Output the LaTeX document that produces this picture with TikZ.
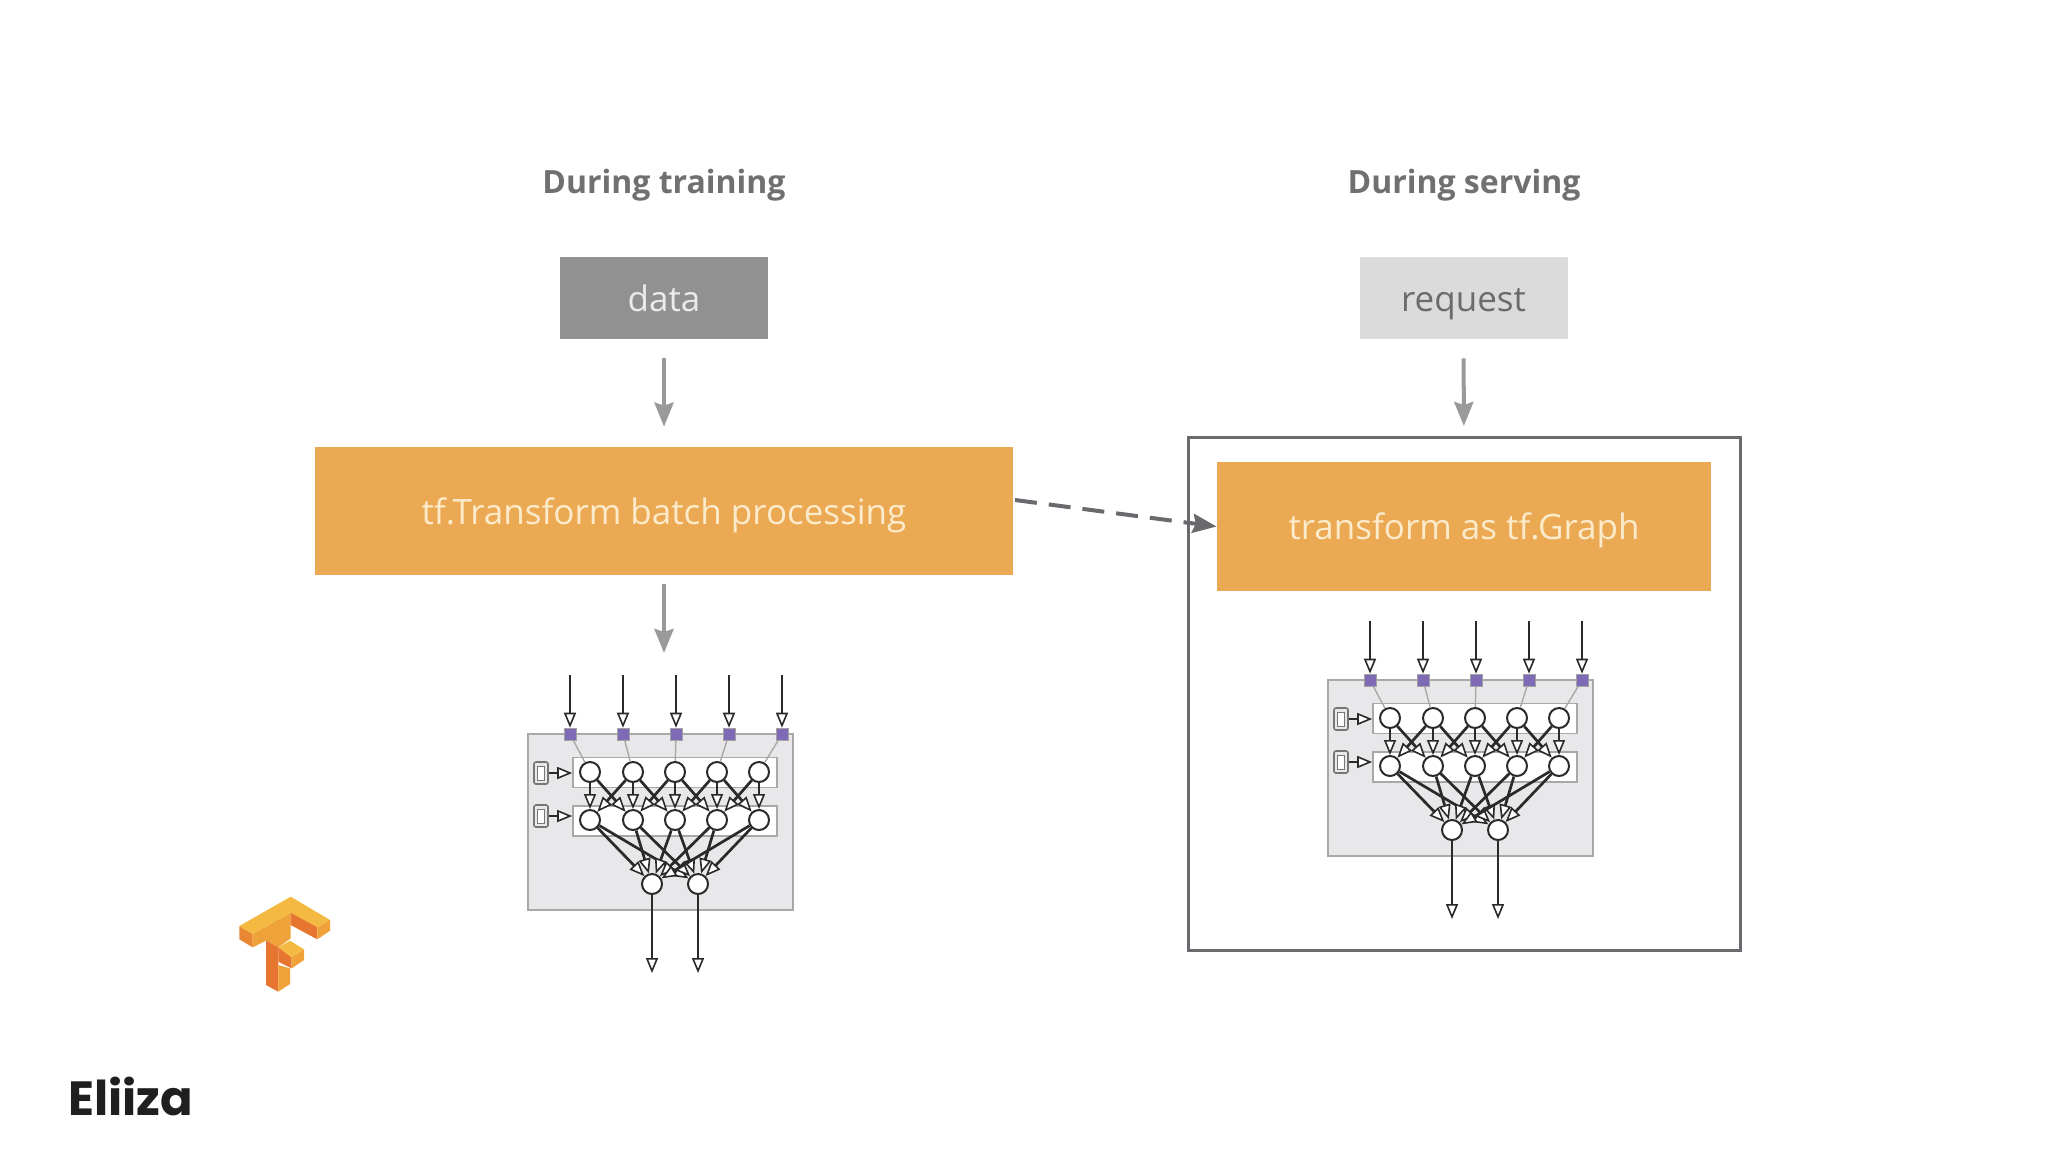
\documentclass[tikz,border=0pt]{standalone}
\usepackage{fontspec}
\setmainfont{Open Sans}
\newfontfamily\logofont{Poppins}
\usetikzlibrary{arrows.meta}
\definecolor{orangebox}{HTML}{ECA953}
\definecolor{orangetext}{HTML}{FBEBCB}
\definecolor{titlegray}{HTML}{707070}
\definecolor{arrowgray}{HTML}{9A9A9A}
\definecolor{framegray}{HTML}{6A6A6E}
\definecolor{netgray}{HTML}{E8E8EA}
\definecolor{netline}{HTML}{A8A8A8}
\definecolor{netdark}{HTML}{2A2A2A}
\definecolor{purplesq}{HTML}{7F6BB5}
\definecolor{logotop}{HTML}{F4B940}
\definecolor{logomid}{HTML}{F0A23A}
\definecolor{logodark}{HTML}{E6752F}
\tikzset{
  x=0.5pt,y=-0.5pt,
  titletext/.style={font=\bfseries\fontsize{16}{20}\selectfont,text=titlegray,inner sep=0,text height=12pt,text depth=0pt},
  databox/.style={minimum width=104pt,minimum height=41pt,inner sep=0,font=\fontsize{17.5}{20}\selectfont,text height=14pt,text depth=1pt},
  orangeblock/.style={fill=orangebox,inner sep=0,text=orangetext,font=\fontsize{17.5}{20}\selectfont,text height=14pt,text depth=1pt},
  grayarrow/.style={draw=arrowgray,line width=2pt,-{Stealth[length=12pt,width=9.5pt,inset=1.5pt]}},
  netpanel/.style={draw=netline,fill=netgray,line width=0.8pt,inner sep=0,minimum width=132.5pt,minimum height=88pt},
  layerbox/.style={draw=netline,fill=white,line width=0.8pt,inner sep=0,minimum width=102pt,minimum height=15pt},
  neuron/.style={circle,draw=netdark,fill=white,line width=1pt,inner sep=0,minimum size=10pt},
  inport/.style={draw=netgray!70!black,fill=purplesq,line width=0.3pt,inner sep=0,minimum size=6pt},
  ctrlbox/.style={draw=netline!70!black,fill=netgray,rounded corners=1pt,line width=0.8pt,inner sep=0,minimum width=7pt,minimum height=11pt},
  ctrlin/.style={draw=netline!70!black,fill=white,line width=0.5pt,inner sep=0,minimum width=3.5pt,minimum height=7pt},
  netarrow/.style={draw=netdark,line width=1.35pt,-{Triangle[open,fill=white,length=7.5pt,width=6pt,line width=0.8pt]}},
  thinlink/.style={draw=netline,line width=0.7pt},
}
\newcommand{\drawnet}[3]{%
  \begin{scope}[shift={(#2,#3)}]
    \node[netpanel] (#1panel) at (660.5,822) {};
    \node[layerbox] (#1layerA) at (675,772.5) {};
    \node[layerbox] (#1layerB) at (675,821) {};
    \node[ctrlbox] (#1ctrlA) at (541,773) {};
    \node[ctrlin] (#1ctrlAin) at (541,773) {};
    \node[ctrlbox] (#1ctrlB) at (541,816) {};
    \node[ctrlin] (#1ctrlBin) at (541,816) {};
    \draw[netarrow,line width=1pt] (#1ctrlA) -- (#1layerA.west |- #1ctrlA);
    \draw[netarrow,line width=1pt] (#1ctrlB) -- (#1layerB.west |- #1ctrlB);
    \foreach \i/\sx/\nx in {1/570/590,2/623/633,3/676/675,4/729/717,5/782/759}{
      \node[inport] (#1in\i) at (\sx,734) {};
      \coordinate (#1src\i) at (\sx,675);
      \node[neuron] (#1a\i) at (\nx,772) {};
      \node[neuron] (#1b\i) at (\nx,820) {};
      \draw[thinlink] (#1in\i) -- (#1a\i);
      \draw[netarrow] (#1src\i) -- (#1in\i);
    }
    \foreach \i/\j in {1/1,1/2,2/1,2/2,2/3,3/2,3/3,3/4,4/3,4/4,4/5,5/4,5/5}{
      \draw[netarrow] (#1a\i) -- (#1b\j);
    }
    \node[neuron] (#1o1) at (652,884) {};
    \node[neuron] (#1o2) at (698,884) {};
    \foreach \i in {1,...,5}{
      \draw[netarrow] (#1b\i) -- (#1o1);
      \draw[netarrow] (#1b\i) -- (#1o2);
    }
    \coordinate (#1sink1) at (652,973);
    \coordinate (#1sink2) at (698,973);
    \draw[netarrow] (#1o1) -- (#1sink1);
    \draw[netarrow] (#1o2) -- (#1sink2);
  \end{scope}%
}
\begin{document}
\begin{tikzpicture}
\useasboundingbox (0,0) rectangle (2048,1152);
\fill[white] (0,0) rectangle (2048,1152);

\node[titletext] (titleL) at (664,181) {During training};
\node[titletext] (titleR) at (1464,181) {During serving};

\node[databox,fill=black!43,text=white!92!black] (data) at (664,298) {data};
\node[databox,fill=black!14,text=black!58] (request) at (1463.5,298) {request};

\node[orangeblock,minimum width=349pt,minimum height=64pt] (batch) at (664,511) {tf.Transform batch processing};
\node[draw=framegray,line width=1.5pt,inner sep=0,minimum width=276pt,minimum height=256.5pt] (frame) at (1464.5,694) {};
\node[orangeblock,minimum width=247pt,minimum height=64.5pt] (graphbox) at (1464,526.5) {transform as tf.Graph};

\draw[grayarrow,shorten <=9.5pt,shorten >=10pt] (data) -- (batch);
\draw[grayarrow,shorten <=9.5pt,shorten >=5pt] (request) -- (frame);
\coordinate (netentry) at (664,653);
\draw[grayarrow,shorten <=4.5pt] (batch) -- (netentry);

\coordinate (dashstart) at (1015,500);
\draw[draw=framegray,line width=2pt,dash pattern=on 11pt off 6pt,-{Stealth[length=12pt,width=9.5pt,inset=1.5pt]}] (dashstart) -- (graphbox.west);

\drawnet{L}{0}{0}
\drawnet{R}{800}{-54}

% TensorFlow logo
\begin{scope}[shift={(40,870)},x=0.16667pt,y=-0.16667pt,line join=round]
  \fill[logomid] (638,192) -- (752,128) -- (752,205) -- (715,232) -- (678,212) -- (638,232) -- cycle;
  \fill[logodark!60!logomid] (598,168) -- (638,192) -- (638,232) -- (598,208) -- cycle;
  \fill[logotop] (598,168) -- (752,80) -- (870,150) -- (832,172) -- (752,128) -- (638,192) -- cycle;
  \fill[logodark] (752,128) -- (832,172) -- (832,208) -- (752,165) -- cycle;
  \fill[logomid] (832,172) -- (870,150) -- (870,182) -- (832,208) -- cycle;
  \fill[logodark] (678,212) -- (715,232) -- (715,365) -- (678,345) -- cycle;
  \fill[logomid] (715,285) -- (750,295) -- (750,342) -- (715,365) -- cycle;
  \fill[logodark] (715,232) -- (755,262) -- (755,295) -- (715,275) -- cycle;
  \fill[logomid] (755,262) -- (792,238) -- (792,270) -- (755,295) -- cycle;
  \fill[logotop] (715,232) -- (750,212) -- (792,238) -- (755,262) -- cycle;
\end{scope}

\node[anchor=base west,inner sep=0,text=black!88,font=\logofont\bfseries\fontsize{24}{28}\selectfont] (brand) at (68,1115) {Eliiza};
\end{tikzpicture}
\end{document}
